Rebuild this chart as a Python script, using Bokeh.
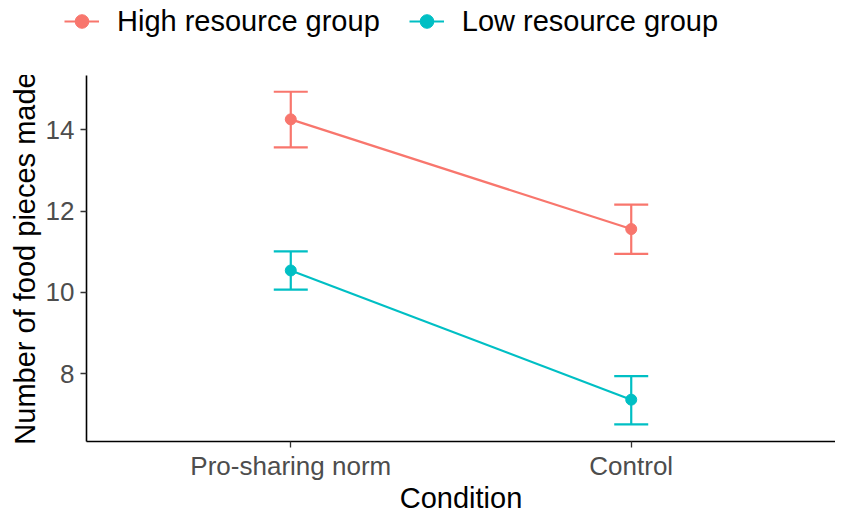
from bokeh.plotting import figure
from bokeh.layouts import column, row
from bokeh.models import (ColumnDataSource, Range1d, FixedTicker, Whisker, TeeHead,
                          Legend, LegendItem, Spacer)
from bokeh.embed import file_html
from bokeh.resources import INLINE

conditions = ["Pro-sharing norm", "Control"]
groups = ["High resource group", "Low resource group"]
colors = ["#F8766D", "#00BFC4"]
means = {
    "High resource group": [14.26, 11.56],
    "Low resource group": [10.54, 7.36],
}
upper = {
    "High resource group": [14.94, 12.16],
    "Low resource group": [11.01, 7.94],
}
lower = {
    "High resource group": [13.57, 10.95],
    "Low resource group": [10.07, 6.75],
}
y_ticks = [8, 10, 12, 14]
x_title = "Condition"
y_title = "Number of food pieces made"

FONT = "Liberation Sans"
LW = 2.2

x_pos = [i + 1 for i in range(len(conditions))]
y_lo, y_hi = 6.33, 15.34

# ---- legend strip (top) ----
lg = figure(width=835, height=75, output_backend="svg", toolbar_location=None,
            x_range=Range1d(0, 1), y_range=Range1d(0, 1),
            x_axis_location=None, y_axis_location=None,
            min_border=0)
lg.outline_line_color = None
lg.grid.visible = False
items = []
for g, c in zip(groups, colors):
    # key-only renderers, kept outside the strip's visible range
    dummy = ColumnDataSource(dict(x=[-5, -4], y=[-5, -5]))
    l1 = lg.line("x", "y", source=dummy, line_color=c, line_width=LW)
    l2 = lg.scatter("x", "y", source=dummy, color=c, size=11)
    items.append(LegendItem(label=g, renderers=[l1, l2]))
legend = Legend(items=items, orientation="horizontal", location=(64, 37),
                label_text_font=FONT, label_text_font_size="29px",
                label_text_color="black", glyph_width=35, glyph_height=34,
                label_standoff=18, spacing=29, padding=0, margin=0,
                label_height=34,
                border_line_color=None, background_fill_alpha=0)
lg.add_layout(legend, "center")

# ---- main plot ----
p = figure(width=830, height=441, output_backend="svg", toolbar_location=None,
           x_range=Range1d(0.4, 2.6), y_range=Range1d(y_lo, y_hi),
           min_border_left=0, min_border_right=0, min_border_top=0,
           min_border_bottom=68)
p.outline_line_color = None
p.grid.visible = False
p.background_fill_color = "white"
p.border_fill_color = "white"

for g, c in zip(groups, colors):
    src = ColumnDataSource(dict(x=x_pos, y=means[g], up=upper[g], lo=lower[g]))
    w = Whisker(source=src, base="x", upper="up", lower="lo",
                line_color=c, line_width=LW,
                upper_head=TeeHead(size=34, line_color=c, line_width=LW),
                lower_head=TeeHead(size=34, line_color=c, line_width=LW))
    p.add_layout(w)
    p.line("x", "y", source=src, line_color=c, line_width=LW)
    p.scatter("x", "y", source=src, color=c, size=11)

for ax in (p.xaxis[0], p.yaxis[0]):
    ax.axis_line_color = "black"
    ax.axis_line_width = 1.6
    ax.major_tick_line_color = "#333333"
    ax.major_tick_line_width = 1.3
    ax.major_tick_out = 6
    ax.major_tick_in = 0
    ax.minor_tick_line_color = None
    ax.major_label_text_font = FONT
    ax.major_label_text_color = "#4D4D4D"
    ax.axis_label_text_font = FONT
    ax.axis_label_text_font_style = "normal"
    ax.axis_label_text_color = "black"

p.xaxis.ticker = FixedTicker(ticks=x_pos)
p.xaxis.major_label_overrides = {x: c for x, c in zip(x_pos, conditions)}
p.xaxis.major_label_text_font_size = "26px"
p.xaxis.major_label_standoff = 3
p.xaxis.axis_label = x_title
p.xaxis.axis_label_text_font_size = "29px"
p.xaxis.axis_label_standoff = -2

p.yaxis.ticker = FixedTicker(ticks=y_ticks)
p.yaxis.major_label_text_font_size = "26px"
p.yaxis.major_label_standoff = 6
p.yaxis.axis_label = y_title
p.yaxis.axis_label_text_font_size = "29px"
p.yaxis.axis_label_standoff = 2

main = row(Spacer(width=5, height=441), p, spacing=0)
layout = column(lg, main, spacing=0)
open("out.html", "w").write(file_html(layout, INLINE))
